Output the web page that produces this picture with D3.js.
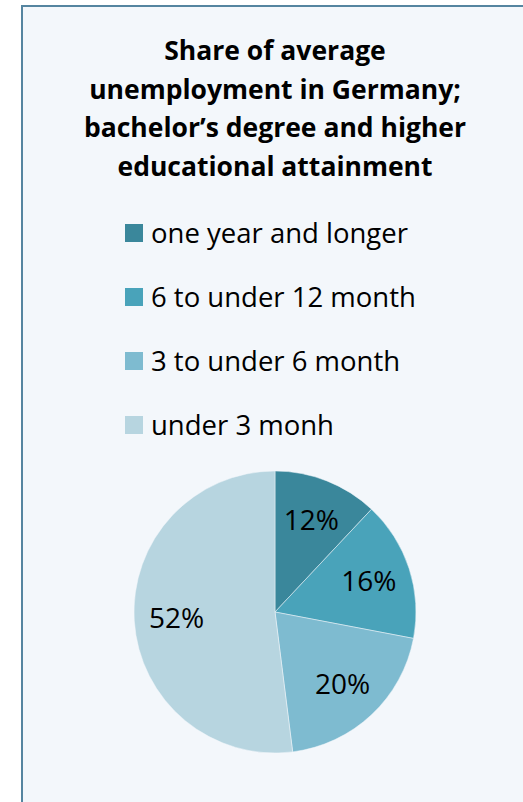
<!DOCTYPE html>
<html lang="en">
	<head>
		<meta charset="utf-8">
		<title>Share of average unemployment in Germany</title>
		<script type="text/javascript" src="https://cdn.jsdelivr.net/npm/d3@7"></script>
		<style type="text/css">
			body {
				margin: 0;
				background: #ffffff;
				font-family: "Open Sans", sans-serif;
			}
		</style>
	</head>
	<body>
		<script type="text/javascript">

			// Data
			var categories = ["one year and longer", "6 to under 12 month", "3 to under 6 month", "under 3 monh"];
			var shares = [12, 16, 20, 52];
			var colours = ["#3a879b", "#49a3ba", "#7ebbd0", "#b7d5e0"];
			var titleLines = ["Share of average", "unemployment in Germany;", "bachelor\u2019s degree and higher", "educational attainment"];

			// Width and height
			var w = 523;
			var h = 802;
			var cx = 275;
			var cy = 612;
			var r = 141;

			var svg = d3.select("body")
						.append("svg")
						.attr("width", w)
						.attr("height", h);

			// chart area box
			svg.append("rect")
			   .attr("x", 22)
			   .attr("y", 6)
			   .attr("width", w + 10)
			   .attr("height", h + 10)
			   .attr("fill", "#f3f7fb")
			   .attr("stroke", "#5585a0")
			   .attr("stroke-width", 2);

			// Title
			svg.append("text")
			   .attr("text-anchor", "middle")
			   .attr("font-weight", "bold")
			   .attr("font-size", "26.5px")
			   .attr("fill", "#000")
			   .selectAll("tspan")
			   .data(titleLines)
			   .enter()
			   .append("tspan")
			   .attr("x", cx)
			   .attr("y", function(d, i) { return 60 + i * 38.5; })
			   .text(function(d) { return d; });

			// Legend
			var legend = svg.selectAll("g.legend")
							.data(categories)
							.enter()
							.append("g")
							.attr("class", "legend")
							.attr("transform", function(d, i) {
								return "translate(125," + (224 + i * 64) + ")";
							});

			legend.append("rect")
				  .attr("width", 18)
				  .attr("height", 18)
				  .attr("fill", function(d, i) { return colours[i]; });

			legend.append("text")
				  .attr("x", 26)
				  .attr("y", 19)
				  .attr("font-size", "27.5px")
				  .attr("fill", "#000")
				  .text(function(d) { return d; });

			// Pie
			var pie = d3.pie()
						.sort(null)
						.value(function(d) { return d; });

			var arc = d3.arc()
						.innerRadius(0)
						.outerRadius(r);

			var labelArc = d3.arc()
							 .innerRadius(r * 0.7)
							 .outerRadius(r * 0.7);

			var slices = svg.append("g")
							.attr("transform", "translate(" + cx + "," + cy + ")")
							.selectAll("g")
							.data(pie(shares))
							.enter()
							.append("g");

			slices.append("path")
				  .attr("d", arc)
				  .attr("fill", function(d, i) { return colours[i]; })
				  .attr("stroke", "#f3f7fb")
				  .attr("stroke-width", 0.5);

			slices.append("text")
				  .attr("transform", function(d) {
					  return "translate(" + labelArc.centroid(d) + ")";
				  })
				  .attr("text-anchor", "middle")
				  .attr("dy", "0.35em")
				  .attr("font-size", "28px")
				  .attr("fill", "#000")
				  .text(function(d) { return d.data + "%"; });

		</script>
	</body>
</html>
